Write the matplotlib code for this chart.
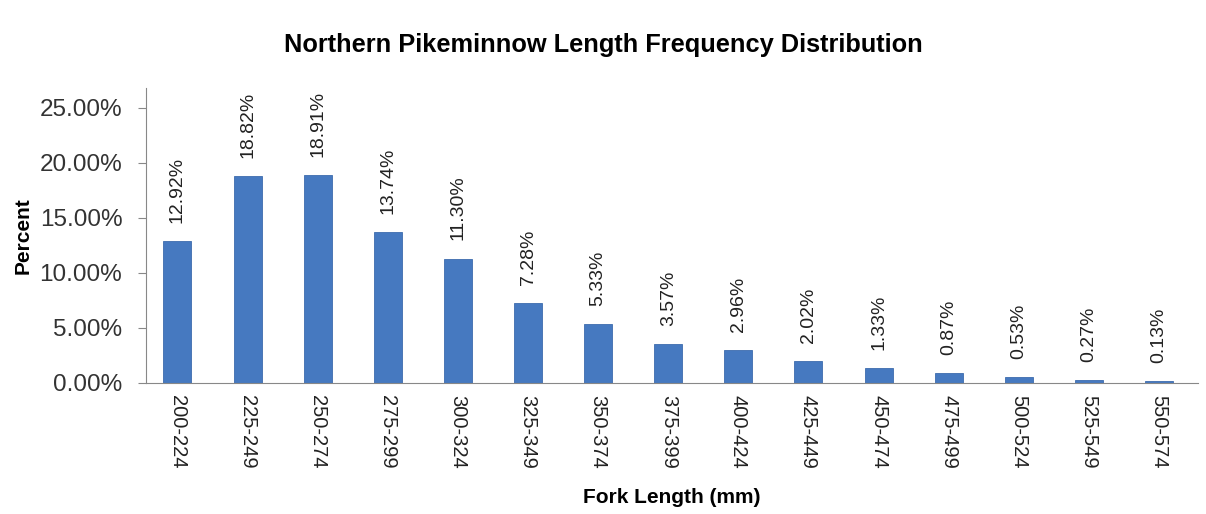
import matplotlib
matplotlib.use('Agg')
import matplotlib.pyplot as plt
from matplotlib.ticker import FuncFormatter

plt.rcParams['font.family'] = ['Liberation Sans', 'DejaVu Sans']

# Length bins and percent of fish in each
bins = ["200-224", "225-249", "250-274", "275-299", "300-324", "325-349", "350-374",
        "375-399", "400-424", "425-449", "450-474", "475-499", "500-524", "525-549", "550-574"]
percent = [12.92, 18.82, 18.91, 13.74, 11.30, 7.28, 5.33, 3.57, 2.96, 2.02, 1.33, 0.87, 0.53, 0.27, 0.13]

fig = plt.figure(figsize=(12.06, 5.14), dpi=100)
ax = fig.add_axes([0.121, 0.255, 0.872, 0.574])

x = range(len(bins))
ax.bar(x, percent, width=0.4, color='#4679c0', edgecolor='#3d6cad', linewidth=0.6)

for xi, v in zip(x, percent):
    ax.annotate(f"{v:.2f}%", (xi, v), xytext=(0, 13), textcoords='offset points',
                rotation=90, ha='center', va='bottom', fontsize=14, color='#222222')

ax.set_xlim(-0.45, len(bins) - 0.45)
ax.set_ylim(0, 26.8)
ax.set_yticks([0, 5, 10, 15, 20, 25])
ax.yaxis.set_major_formatter(FuncFormatter(lambda v, p: f"{v:.2f}%"))
ax.set_xticks(list(x))
ax.set_xticklabels(bins, rotation=-90, fontsize=14.5, color='#222222')
ax.tick_params(axis='y', labelsize=17.5, colors='#888888', labelcolor='#333333',
               length=6, direction='out', pad=11)
ax.tick_params(axis='x', length=0, pad=9)

for s in ['top', 'right']:
    ax.spines[s].set_visible(False)
ax.spines['left'].set_color('#888888')
ax.spines['bottom'].set_color('#888888')

ax.set_ylabel("Percent", fontsize=15, fontweight='bold')
ax.yaxis.set_label_coords(-0.108, 0.5)
ax.set_xlabel("Fork Length (mm)", fontsize=15, fontweight='bold')
ax.xaxis.set_label_coords(0.5, -0.355)
fig.text(0.5, 0.912, "Northern Pikeminnow Length Frequency Distribution",
         ha='center', va='center', fontsize=18.3, fontweight='bold')

fig.savefig('out.png', dpi=100, facecolor='white')
